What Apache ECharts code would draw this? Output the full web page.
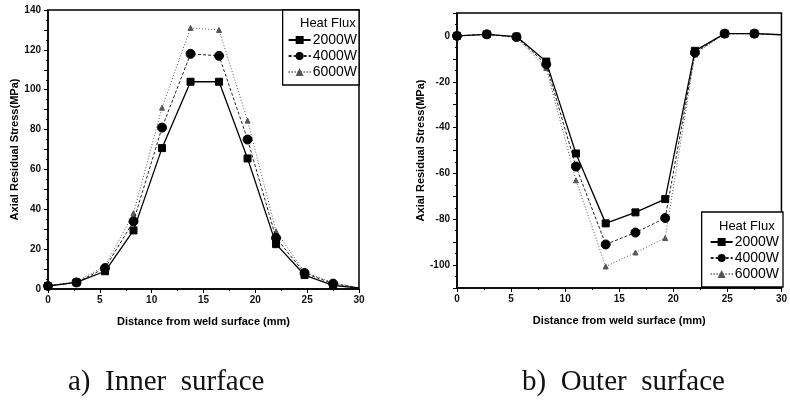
<!DOCTYPE html>
<html>
<head>
<meta charset="utf-8">
<script src="https://cdn.jsdelivr.net/npm/echarts@6/dist/echarts.min.js"></script>
<style>
  html, body { margin: 0; padding: 0; background: #fff; }
  #main { width: 790px; height: 408px; }
</style>
</head>
<body>
<div id="main"></div>
<script>
// distance from weld surface (mm)
var distance = [0, 2.75, 5.5, 8.25, 11, 13.75, 16.5, 19.25, 22, 24.75, 27.5, 30];
var seriesNames = ['2000W', '4000W', '6000W'];

// a) inner surface
var inner2000 = [1.5, 3.3, 8.9, 29.4, 70.7, 104, 104, 65.5, 22.5, 7, 1.8, 0.5];
var inner4000 = [1.5, 3.3, 10.5, 34, 81, 118, 117, 75, 25.6, 8, 2.7, 0.5];
var inner6000 = [1.5, 3.8, 11.5, 38, 91, 131, 130, 84.5, 29, 8.5, 3.2, 0.5];

// b) outer surface
var outer2000 = [0, 0.7, -0.3, -11.2, -51.3, -81.8, -77, -71.2, -6.5, 1, 1, 0.5];
var outer4000 = [0, 0.7, -0.5, -12.4, -57, -91, -85.8, -79.5, -7.3, 1, 1, 0.5];
var outer6000 = [0, 0.7, -0.8, -14, -63, -100.6, -94.5, -88.2, -8, 1, 1, 0.5];

var xTicks = [0, 5, 10, 15, 20, 25, 30];
var innerTicks = [0, 20, 40, 60, 80, 100, 120, 140];
var outerTicks = [0, -20, -40, -60, -80, -100];

var myChart = echarts.init(document.getElementById('main'));

function pairs(ys) {
    return distance.map(function (x, i) {
        // last point only carries the line to the frame, no marker
        if (i === distance.length - 1) return { value: [x, ys[i]], symbol: 'none' };
        return [x, ys[i]];
    });
}

var FONT = 'Liberation Sans, Arial';
var styles = [
    { symbol: 'rect', size: 7, line: { color: '#000', width: 1.3, type: 'solid' }, fill: '#000' },
    { symbol: 'circle', size: 9, line: { color: '#222', width: 1, type: [3, 2] }, fill: '#000' },
    { symbol: 'triangle', size: 5, line: { color: '#555', width: 1, type: [1, 2] }, fill: '#555' }
];

function xAxisFor(idx) {
    return {
        gridIndex: idx, type: 'value', min: 0, max: 30, interval: 5,
        name: 'Distance from weld surface (mm)', nameLocation: 'middle', nameGap: 27,
        nameTextStyle: { color: '#000', fontFamily: FONT, fontSize: 11, fontWeight: 'bold' },
        axisLine: { onZero: false, lineStyle: { color: '#000', width: 1.5 } },
        axisTick: { inside: false, length: 4, lineStyle: { color: '#000' } },
        minorTick: { show: true, splitNumber: 2, length: 2, lineStyle: { color: '#000' } },
        axisLabel: {
            margin: 6, color: '#111', fontFamily: FONT, fontSize: 10, fontWeight: 'bold',
            formatter: function (v) { return xTicks.indexOf(v) >= 0 ? String(v) : ''; }
        },
        splitLine: { show: false }
    };
}

function yAxisFor(idx, min, max, interval, ticks, gap) {
    return {
        gridIndex: idx, type: 'value', min: min, max: max, interval: interval,
        name: 'Axial Residual Stress(MPa)', nameLocation: 'middle', nameGap: gap,
        nameTextStyle: { color: '#000', fontFamily: FONT, fontSize: 11, fontWeight: 'bold' },
        axisLine: { onZero: false, lineStyle: { color: '#000', width: 1.5 } },
        axisTick: { inside: false, length: 4, lineStyle: { color: '#000' } },
        minorTick: { show: true, splitNumber: 2, length: 2, lineStyle: { color: '#000' } },
        axisLabel: {
            margin: 7, color: '#111', fontFamily: FONT, fontSize: 10, fontWeight: 'bold',
            formatter: function (v) { return ticks.indexOf(v) >= 0 ? String(v) : ''; }
        },
        splitLine: { show: false }
    };
}

function lineSeries(name, k, ys, idx) {
    var s = styles[k];
    return {
        name: name, type: 'line', xAxisIndex: idx, yAxisIndex: idx,
        data: pairs(ys),
        symbol: s.symbol, symbolSize: s.size, showSymbol: true,
        lineStyle: s.line,
        itemStyle: { color: s.fill, borderColor: s.fill },
        z: 3 - k,
        animation: false
    };
}

function legendFor(pos, pad) {
    return Object.assign({
        orient: 'vertical',
        data: seriesNames,
        itemWidth: 22, itemHeight: 10, itemGap: 2,
        backgroundColor: '#fff',
        borderColor: '#000', borderWidth: 1.3, borderRadius: 0,
        padding: pad,
        textStyle: { color: '#000', fontFamily: FONT, fontSize: 14, padding: [0, 0, 0, -3] },
        selectedMode: false
    }, pos);
}

var titleText = { color: '#000', fontFamily: FONT, fontSize: 13, fontWeight: 'normal' };

var option = {
    backgroundColor: '#fff',
    animation: false,
    title: [
        { text: 'Heat Flux', left: 300, top: 17, textStyle: titleText, padding: 0, z: 10 },
        { text: 'Heat Flux', left: 719, top: 220, textStyle: titleText, padding: 0, z: 10 }
    ],
    legend: [
        legendFor({ right: 431, top: 10 }, [23, 2, 6, 5]),
        legendFor({ right: 7, bottom: 121 }, [23, 4, 6, 8])
    ],
    grid: [
        { left: 48, top: 10, width: 311, height: 279, show: true, borderColor: '#000', borderWidth: 1.5, backgroundColor: 'transparent' },
        { left: 457, top: 13, width: 326, height: 275, show: true, borderColor: '#000', borderWidth: 1.5, backgroundColor: 'transparent' }
    ],
    xAxis: [xAxisFor(0), xAxisFor(1)],
    yAxis: [
        yAxisFor(0, 0, 140, 10, innerTicks, 28),
        yAxisFor(1, -110, 10, 10, outerTicks, 30)
    ],
    series: [
        lineSeries('2000W', 0, inner2000, 0),
        lineSeries('4000W', 1, inner4000, 0),
        lineSeries('6000W', 2, inner6000, 0),
        lineSeries('2000W', 0, outer2000, 1),
        lineSeries('4000W', 1, outer4000, 1),
        lineSeries('6000W', 2, outer6000, 1)
    ],
    graphic: [
        { type: 'text', left: 68, top: 368, style: { text: 'a)  Inner  surface', fill: '#111', font: '29px "Liberation Serif", serif' } },
        { type: 'text', left: 522, top: 368, style: { text: 'b)  Outer  surface', fill: '#111', font: '29px "Liberation Serif", serif' } }
    ]
};

myChart.setOption(option);
</script>
</body>
</html>
